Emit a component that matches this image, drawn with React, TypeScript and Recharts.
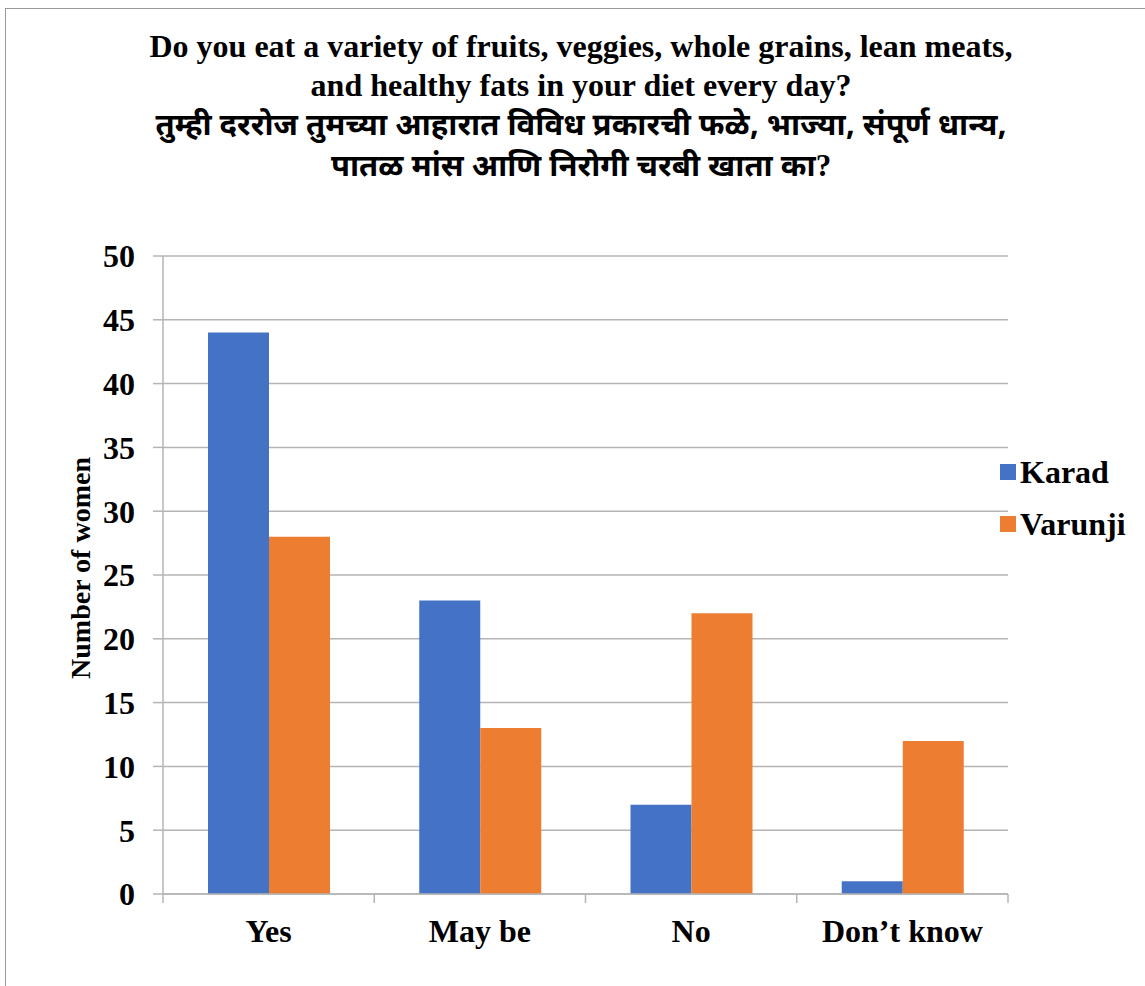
import { BarChart, Bar, XAxis, YAxis, CartesianGrid } from 'recharts';

const categories = ['Yes', 'May be', 'No', 'Don’t know'];
const karad = [44, 23, 7, 1];
const varunji = [28, 13, 22, 12];
const yTicks = [0, 5, 10, 15, 20, 25, 30, 35, 40, 45, 50];

const SERIES = [
  { key: 'karad', name: 'Karad', color: '#4472C4' },
  { key: 'varunji', name: 'Varunji', color: '#ED7D31' },
];

const data = categories.map((c, i) => ({
  name: c,
  karad: karad[i],
  varunji: varunji[i],
}));

const SERIF = '"Liberation Serif", "Times New Roman", serif';
const DEVA = '"Noto Sans Devanagari", "Lohit Devanagari", Mangal, "Noto Sans", sans-serif';
const GRID = '#b4b4b4';
const W = 1145;
const H = 986;

// x tick: label plus boundary tick marks at band edges
function XTick(props: any) {
  const { x, y, payload, index } = props;
  const half = payload?.offset ?? 0;
  const axisY = y;
  return (
    <g>
      <line x1={x - half} x2={x - half} y1={axisY} y2={axisY + 9} stroke={GRID} strokeWidth={1.5} />
      {index === categories.length - 1 && (
        <line x1={x + half} x2={x + half} y1={axisY} y2={axisY + 9} stroke={GRID} strokeWidth={1.5} />
      )}
      <text
        x={x}
        y={axisY + 48}
        textAnchor="middle"
        fontFamily={SERIF}
        fontWeight="bold"
        fontSize={32}
        fill="#000"
      >
        {payload.value}
      </text>
    </g>
  );
}

function YLabel() {
  return (
    <text
      transform="rotate(-90, 80, 568)"
      x={80}
      y={568}
      dy={10}
      textAnchor="middle"
      fontFamily={SERIF}
      fontWeight="bold"
      fontSize={28}
      fill="#000"
    >
      Number of women
    </text>
  );
}

export default function App() {
  return (
    <div
      style={{
        position: 'fixed',
        left: 0,
        top: 0,
        width: W,
        height: H,
        overflow: 'hidden',
        background: '#fff',
      }}
    >
      <div
        style={{
          position: 'absolute',
          left: 5,
          top: 8,
          width: W,
          height: H,
          border: '1.5px solid #9a9a9a',
          boxSizing: 'border-box',
        }}
      />
      <div
        style={{
          position: 'absolute',
          left: 80,
          top: 27,
          width: 1002,
          textAlign: 'center',
          color: '#000',
        }}
      >
        <div style={{ fontFamily: SERIF, fontWeight: 'bold', fontSize: 32, lineHeight: '39px' }}>
          Do you eat a variety of fruits, veggies, whole grains, lean meats,
          <br />
          and healthy fats in your diet every day?
        </div>
        <div
          style={{
            fontFamily: DEVA,
            fontWeight: 'bold',
            fontSize: 31,
            lineHeight: '38px',
            marginTop: 4,
          }}
        >
          तुम्ही दररोज तुमच्या आहारात विविध प्रकारची फळे, भाज्या, संपूर्ण धान्य,
          <br />
          पातळ मांस आणि निरोगी चरबी खाता का<span style={{ fontFamily: SERIF }}>?</span>
        </div>
      </div>

      <div style={{ position: 'absolute', left: 0, top: 0 }}>
        <BarChart
          width={W}
          height={H}
          data={data}
          margin={{ top: 256, right: 137, bottom: 32, left: 0 }}
          barCategoryGap={45}
          barGap={0}
        >
          <CartesianGrid vertical={false} stroke={GRID} strokeWidth={1.5} />
          <XAxis
            dataKey="name"
            height={60}
            tickLine={false}
            tickSize={0}
            tickMargin={0}
            axisLine={{ stroke: GRID, strokeWidth: 1.5 }}
            tick={<XTick />}
            interval={0}
          />
          <YAxis
            width={163}
            domain={[0, 50]}
            ticks={yTicks}
            interval={0}
            tickSize={10}
            tickMargin={18}
            tickLine={{ stroke: GRID, strokeWidth: 1.5 }}
            axisLine={{ stroke: GRID, strokeWidth: 1.5 }}
            tick={{ fontFamily: SERIF, fontWeight: 'bold', fontSize: 32, fill: '#000' }}
            label={<YLabel />}
          />
          {SERIES.map((s) => (
            <Bar key={s.key} dataKey={s.key} name={s.name} fill={s.color} isAnimationActive={false} />
          ))}
        </BarChart>
      </div>

      <div style={{ position: 'absolute', left: 1000, top: 451 }}>
        {SERIES.map((s) => (
          <div
            key={s.key}
            style={{ display: 'flex', alignItems: 'center', height: 42, marginBottom: 10 }}
          >
            <span style={{ width: 16, height: 16, background: s.color, marginRight: 4 }} />
            <span style={{ fontFamily: SERIF, fontWeight: 'bold', fontSize: 32, color: '#000' }}>
              {s.name}
            </span>
          </div>
        ))}
      </div>
    </div>
  );
}
